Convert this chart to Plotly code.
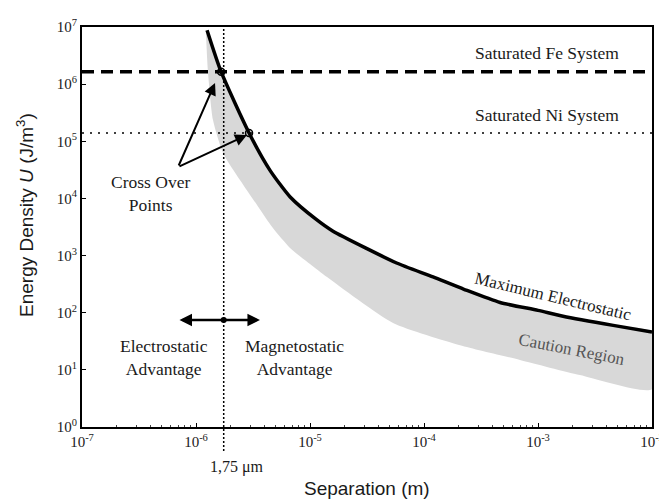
import math
import plotly.graph_objects as go

# ---- data ----
curve_x = [1.25e-6, 1.66e-6, 2.92e-6, 4.46e-6, 6.7e-6, 1.12e-5, 1.58e-5, 3.16e-5,
           5.75e-5, 1.2e-4, 2.24e-4, 4.65e-4, 1.0e-3, 1.66e-3, 4.57e-3, 1.0e-2]
curve_y = [8.8e6, 1.65e6, 1.4e5, 3.1e4, 1.06e4, 4.37e3, 2.69e3, 1.32e3,
           741, 422, 257, 151, 110, 87, 60, 46]

caution_x = [1.225e-6, 1.27e-6, 1.41e-6, 1.73e-6, 2.43e-6, 3.43e-6, 4.73e-6, 6.68e-6,
             1.0e-5, 1.41e-5, 5.35e-5, 2.07e-4, 6.95e-4, 2.33e-3, 1.0e-2]
caution_y = [7.2e6, 1.77e6, 2.35e5, 6.2e4, 2.1e4, 7.7e3, 3.03e3, 1.36e3,
             710, 420, 66, 27, 14.9, 8.1, 4.6]

fe_level = 1.65e6
ni_level = 1.4e5
crossover_sep = 1.75e-6
x_range = [1e-7, 1e-2]
y_range = [1e0, 1e7]
x_tick_exp = [-7, -6, -5, -4, -3, -2]
y_tick_exp = [0, 1, 2, 3, 4, 5, 6, 7]

SERIF = "Liberation Serif, Times New Roman, serif"
SANS = "Liberation Sans, Arial, sans-serif"
TXT = "#1a1a1a"

fig = go.Figure()

# caution region
fig.add_trace(go.Scatter(
    x=curve_x + caution_x[::-1], y=curve_y + caution_y[::-1],
    fill="toself", fillcolor="#d8d8d8", line=dict(width=0, shape="spline", smoothing=0.6),
    mode="lines", hoverinfo="skip", showlegend=False))

# saturated Fe / Ni lines
fig.add_trace(go.Scatter(x=x_range, y=[fe_level, fe_level], mode="lines",
                         line=dict(color="black", width=3.5, dash="12px,7px"),
                         showlegend=False))
fig.add_trace(go.Scatter(x=x_range, y=[ni_level, ni_level], mode="lines",
                         line=dict(color="black", width=1.5, dash="2px,6px"),
                         showlegend=False))

# maximum electrostatic curve
fig.add_trace(go.Scatter(x=curve_x, y=curve_y, mode="lines",
                         line=dict(color="black", width=3.5, shape="spline", smoothing=0.6),
                         showlegend=False))

# cross-over markers
fig.add_trace(go.Scatter(x=[curve_x[1], curve_x[2]], y=[fe_level, ni_level], mode="markers",
                         marker=dict(symbol="circle-open", size=7, color="black",
                                     line=dict(width=1.5)),
                         showlegend=False))

lx = lambda v: math.log10(v)

shapes = [dict(type="line", xref="paper", yref="paper",
               x0=(lx(crossover_sep) + 7) / 5, x1=(lx(crossover_sep) + 7) / 5,
               y0=-0.06, y1=1.0,
               line=dict(color="black", width=1.5, dash="2px,2px"))]


def label(text, x, y, size=17.5, color=TXT, family=SERIF, angle=0):
    return dict(text=text, x=x, y=y, xref="paper", yref="paper", showarrow=False,
                xanchor="center", yanchor="middle", textangle=angle,
                font=dict(family=family, size=size, color=color))


annotations = [
    label("Saturated Fe System", 0.816, 0.935),
    label("Saturated Ni System", 0.816, 0.78),
    label("Cross Over<br>Points", 0.121, 0.585),
    label("Electrostatic<br>Advantage", 0.144, 0.175),
    label("Magnetostatic<br>Advantage", 0.372, 0.175),
    label("Maximum Electrostatic", 0.826, 0.327, size=17, angle=13.5),
    label("Caution Region", 0.86, 0.195, size=17, color="#555", angle=11),
    label("1,75 μm", 0.272, -0.1, size=16),
    label("Separation (m)", 0.5, -0.153, size=19, family=SANS),
    label("Energy Density <i>U</i> (J/m<sup>3</sup>)", -0.1, 0.53, size=19, family=SANS, angle=-90),
    # cross-over arrows
    dict(text="", x=-5.833, y=6.02, xref="x", yref="y", ax=-37, ay=84,
         showarrow=True, arrowhead=2, arrowsize=1.2, arrowwidth=2, arrowcolor="black"),
    dict(text="", x=-5.553, y=5.11, xref="x", yref="y", ax=-69, ay=32,
         showarrow=True, arrowhead=2, arrowsize=1.2, arrowwidth=2, arrowcolor="black"),
    # double arrow
    dict(text="", x=-5.439, y=1.872, xref="x", yref="y",
         ax=-6.158, ay=1.872, axref="x", ayref="y",
         showarrow=True, arrowhead=2, startarrowhead=2, arrowside="end+start",
         arrowsize=1, startarrowsize=1, arrowwidth=2.5, arrowcolor="black"),
]

# dot at centre of double arrow
fig.add_trace(go.Scatter(x=[crossover_sep], y=[10 ** 1.872], mode="markers",
                         marker=dict(size=6, color="black"), showlegend=False))

fig.update_layout(
    width=659, height=494,
    margin=dict(l=74, r=15, t=19, b=75),
    plot_bgcolor="white", paper_bgcolor="white",
    shapes=shapes, annotations=annotations,
    xaxis=dict(type="log", range=[lx(x_range[0]), lx(x_range[1])], automargin=False,
               tickvals=[10 ** e for e in x_tick_exp],
               ticktext=["10<sup>%d</sup>" % e for e in x_tick_exp],
               ticks="inside", ticklen=4, tickcolor="black",
               minor=dict(ticks="inside", ticklen=2, tickcolor="#444",
                          tickvals=[m * 10 ** e for e in x_tick_exp[:-1] for m in range(2, 10)]),
               showline=True, linecolor="black", linewidth=2, mirror=True,
               showgrid=False, zeroline=False,
               tickfont=dict(family=SERIF, size=15, color=TXT)),
    yaxis=dict(type="log", range=[lx(y_range[0]), lx(y_range[1])], automargin=False,
               tickvals=[10 ** e for e in y_tick_exp],
               ticktext=["10<sup>%d</sup>" % e for e in y_tick_exp],
               ticks="inside", ticklen=4, tickcolor="black",
               showline=True, linecolor="black", linewidth=2, mirror=True,
               showgrid=False, zeroline=False,
               tickfont=dict(family=SERIF, size=15, color=TXT)),
)

fig.write_html("out.html")
